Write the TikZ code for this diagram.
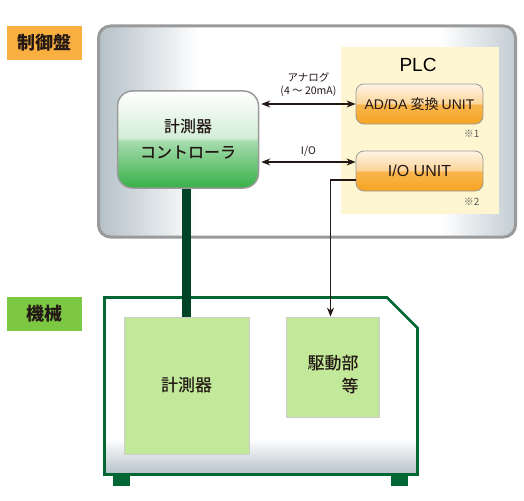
\documentclass[tikz,border=0pt]{standalone}
\usepackage{fontspec}
\setmainfont{Noto Sans CJK JP}
\newfontfamily\lat{Liberation Sans}
\newfontfamily\jpmed{Noto Sans CJK JP Medium}
\usetikzlibrary{positioning, arrows.meta}
\definecolor{pgray}{HTML}{B4C0C8}
\definecolor{edgegray}{HTML}{9A9A9A}
\definecolor{cgreen}{HTML}{38B048}
\definecolor{uorange}{HTML}{F7A320}
\definecolor{plcyellow}{HTML}{FDF6D0}
\definecolor{labgreen}{HTML}{7DC843}
\definecolor{laborange}{HTML}{F9B040}
\definecolor{boxgreen}{HTML}{C2E999}
\definecolor{mgreen}{HTML}{006633}
\definecolor{cablegreen}{HTML}{004428}
\definecolor{ink}{HTML}{231815}
\pgfdeclarehorizontalshading{panelshade}{100bp}{color(0bp)=(pgray); color(25bp)=(pgray); color(37bp)=(white); color(66bp)=(white); color(75bp)=(pgray!80!white); color(100bp)=(pgray!80!white)}
\pgfdeclareverticalshading{machshade}{100bp}{color(0bp)=(pgray); color(25bp)=(pgray); color(35bp)=(white); color(100bp)=(white)}
\pgfdeclareverticalshading{ctrlshade}{100bp}{color(0bp)=(cgreen); color(25bp)=(cgreen); color(49bp)=(cgreen!45!white); color(51bp)=(cgreen!22!white); color(75bp)=(white); color(100bp)=(white)}
\pgfdeclareverticalshading{unitshade}{100bp}{color(0bp)=(uorange); color(25bp)=(uorange); color(49bp)=(uorange!80!white); color(51bp)=(uorange!45!white); color(75bp)=(uorange!12!white); color(100bp)=(uorange!12!white)}
\begin{document}
\begin{tikzpicture}[x=1pt, y=-1pt, >={Stealth[length=9pt, width=7pt]},
    lab/.style={minimum width=75pt, minimum height=34pt, inner sep=0pt, text=ink, font=\fontsize{18}{18}\selectfont\bfseries},
    unit/.style={draw=edgegray, line width=.8pt, rounded corners=8pt, shade, shading=unitshade, minimum width=127pt, minimum height=40pt, inner sep=0pt, text=ink},
    mbox/.style={draw=black!20, line width=.8pt, fill=boxgreen, inner sep=0pt},
    small/.style={text=ink, font=\fontsize{10.5}{13}\selectfont, align=center},
    link/.style={<->, line width=1.4pt, ink}]
\useasboundingbox (0,0) rectangle (524,500);
\node[lab, fill=laborange] (ctrlpanel) at (44.5,43) {制御盤};
\node[lab, fill=labgreen] (machine) at (44.5,313.5) {機械};
\node[draw=edgegray, line width=3pt, rounded corners=12pt, shade, shading=panelshade, minimum width=417pt, minimum height=211pt] (panel) at (307,131.5) {};
\node[fill=plcyellow, minimum width=158pt, minimum height=167pt] (plc) at (420,130.5) {};
\node at (418,65) {\fontsize{19}{19}\selectfont\lat PLC};
\node[unit, font=\fontsize{14}{14}\selectfont] (adda) at (419.5,104) {{\lat AD/DA} 変換 {\lat UNIT}};
\node[unit, font=\fontsize{16}{16}\selectfont\lat] (io) at (419.5,171) {I/O UNIT};
\node[text=black!65, font=\fontsize{10}{10}\selectfont, anchor=east] at (483,134) {※1};
\node[text=black!65, font=\fontsize{10}{10}\selectfont, anchor=east] at (483,202) {※2};
\node[draw=edgegray, line width=1.5pt, rounded corners=15pt, shade, shading=ctrlshade, minimum width=141pt, minimum height=97pt, align=center, text=ink, font=\fontsize{16}{26}\selectfont\jpmed] (ctrl) at (188,139.5) {計測器\\コントローラ};
\fill[mgreen] (113,474) rectangle (130,486);
\fill[mgreen] (391,474) rectangle (408,486);
\draw[mgreen, line width=2.7pt, shade, shading=machshade] (104.5,297.5) -- (387,297.5) -- (417.5,328) -- (417.5,474.5) -- (104.5,474.5) -- cycle;
\node[mbox, minimum width=125pt, minimum height=137pt, text=ink, font=\fontsize{17}{17}\selectfont\jpmed] (meas) at (186.5,385.5) {計測器};
\node[mbox, minimum width=93pt, minimum height=100pt] (drive) at (332.5,367) {};
\node[align=right, text=ink, font=\fontsize{17}{23}\selectfont\jpmed] (drivetext) at (333,374.5) {駆動部\\等};
\draw[cablegreen, line width=9pt] (meas.north |- ctrl.south) -- (meas.north);
\coordinate (ioa) at ([yshift=9pt]io.west);
\coordinate (iob) at ([yshift=-9pt]io.west);
\draw[link] ([xshift=2pt]ctrl.east |- adda.west) -- node[small, above=3pt] {アナログ\\(4 ～ 20mA)} (adda.west);
\draw[link] ([xshift=2pt]ioa -| ctrl.east) -- node[small, above=2pt] {I/O} (ioa);
\draw[->, line width=1.2pt, ink] (iob) -| ([xshift=-2pt]drive.north);
\end{tikzpicture}
\end{document}
